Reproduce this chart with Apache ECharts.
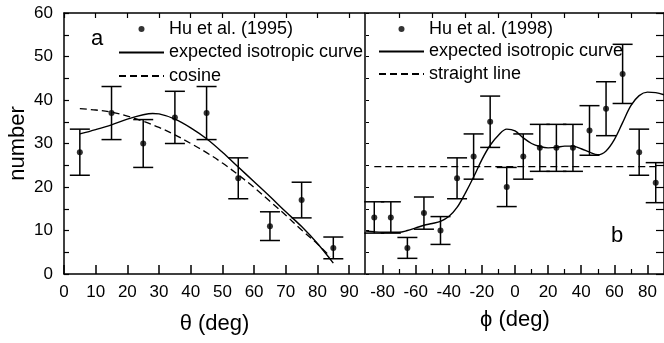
<!DOCTYPE html>
<html><head><meta charset="utf-8">
<script src="https://cdn.jsdelivr.net/npm/echarts@6/dist/echarts.min.js"></script>
<style>html,body{margin:0;padding:0;background:#fff}#c{width:664px;height:343px}</style>
</head><body><div id="c"></div>
<script>
// ---- data ----
const thetaDeg    = [5, 15, 25, 35, 45, 55, 65, 75, 85];
const thetaCounts = [28, 37, 30, 36, 37, 22, 11, 17, 6];
const thetaErrors = [5.3, 6.1, 5.5, 6.0, 6.1, 4.7, 3.3, 4.1, 2.5];

const isoThetaX = [5, 10, 15, 20, 25, 28, 30, 35, 40, 45, 50, 55, 60, 65, 70, 75, 80, 85];
const isoThetaY = [32.2, 33.2, 34.3, 35.6, 36.6, 36.9, 36.8, 35.6, 33.6, 31.1, 28.0, 24.6, 21.2, 17.8, 14.3, 10.9, 7.0, 2.5];

const cosineX = [5, 10, 15, 20, 25, 30, 35, 40, 45, 50, 55, 60, 65, 70, 75, 80, 84];
const cosineY = [38.0, 37.7, 37.2, 36.3, 35.1, 33.7, 32.0, 30.0, 27.9, 25.5, 22.8, 19.9, 16.7, 13.5, 10.1, 6.9, 4.0];

const phiDeg    = [-85, -75, -65, -55, -45, -35, -25, -15, -5, 5, 15, 25, 35, 45, 55, 65, 75, 85];
const phiCounts = [13, 13, 6, 14, 10, 22, 27, 35, 20, 27, 29, 29, 29, 33, 38, 46, 28, 21];
const phiErrors = [3.6, 3.6, 2.4, 3.7, 3.2, 4.7, 5.2, 5.9, 4.5, 5.2, 5.4, 5.4, 5.4, 5.7, 6.2, 6.8, 5.3, 4.6];

const isoPhiX = [-90, -85, -80, -75, -70, -65, -60, -55, -50, -45, -40, -35, -30, -25, -20, -15, -10, -5, 0, 5, 10, 15, 20, 25, 30, 35, 40, 45, 50, 55, 60, 65, 70, 75, 80, 85, 90];
const isoPhiY = [9.9, 9.7, 9.6, 9.6, 9.6, 10.0, 10.6, 11.2, 11.6, 12.1, 13.2, 15.3, 18.6, 22.3, 26.3, 29.6, 31.9, 33.3, 32.9, 31.3, 30.0, 29.3, 29.0, 29.1, 29.4, 29.4, 28.8, 28.0, 27.4, 28.3, 30.9, 34.8, 38.7, 41.0, 41.8, 41.7, 41.2];

const straightX = [-85, 87];
const straightY = [24.7, 24.7];

const thetaTickLabels = [0, 10, 20, 30, 40, 50, 60, 70, 80, 90];
const countTickLabels = [0, 10, 20, 30, 40, 50, 60];
const phiTickLabels   = [-80, -60, -40, -20, 0, 20, 40, 60, 80];
const phiMinorTicks   = [-70, -50, -30, -10, 10, 30, 50, 70];

// ---- helpers ----
const zip = (a, b) => a.map((v, i) => [v, b[i]]);
const zip3 = (a, b, c) => a.map((v, i) => [v, b[i], c[i]]);
const FONT = '"Liberation Sans", Arial, sans-serif';
const BLACK = '#000';
const NOFILL = 'rgba(0,0,0,0)';

function errorBarRender(params, api) {
  const x = api.value(0), y = api.value(1), e = api.value(2);
  const top = api.coord([x, y + e]);
  const bot = api.coord([x, y - e]);
  const hw = 10;
  const st = { stroke: BLACK, lineWidth: 1.5 };
  return {
    type: 'group',
    children: [
      { type: 'line', shape: { x1: top[0], y1: top[1], x2: bot[0], y2: bot[1] }, style: st },
      { type: 'line', shape: { x1: top[0] - hw, y1: top[1], x2: top[0] + hw, y2: top[1] }, style: st },
      { type: 'line', shape: { x1: bot[0] - hw, y1: bot[1], x2: bot[0] + hw, y2: bot[1] }, style: st }
    ]
  };
}

const axisLine = { show: true, onZero: false, lineStyle: { color: BLACK, width: 1.5 } };
const noLine = { show: false, onZero: false };
const labelStyle = { color: BLACK, fontFamily: FONT, fontSize: 17 };
const nameStyle = { color: BLACK, fontFamily: FONT, fontSize: 22 };
const legendText = { color: BLACK, fontFamily: FONT, fontSize: 18 };

const chart = echarts.init(document.getElementById('c'), null, { renderer: 'canvas' });
chart.setOption({
  animation: false,
  backgroundColor: '#fff',
  grid: [
    { left: 64, top: 13, width: 301, height: 261 },
    { left: 366, top: 13, width: 301, height: 261 }
  ],
  legend: [
    {
      orient: 'vertical', left: 118, top: 20, padding: 0,
      itemWidth: 45, itemHeight: 6, itemGap: 5.5,
      textStyle: legendText,
      data: ['Hu et al. (1995)', 'expected isotropic curve', 'cosine']
    },
    {
      orient: 'vertical', left: 378, top: 20, padding: 0,
      itemWidth: 45, itemHeight: 6, itemGap: 4.5,
      textStyle: legendText,
      data: ['Hu et al. (1998)', 'expected isotropic curve', 'straight line']
    }
  ],
  xAxis: [
    { // 0: left bottom
      type: 'value', gridIndex: 0, position: 'bottom', min: 0, max: 95, interval: 10,
      axisLine: axisLine, splitLine: { show: false },
      axisTick: { inside: true, length: 9, customValues: thetaTickLabels, lineStyle: { color: BLACK, width: 1.5 } },
      axisLabel: { customValues: thetaTickLabels, margin: 10, ...labelStyle },
      name: 'θ (deg)', nameLocation: 'middle', nameGap: 39, nameTextStyle: nameStyle
    },
    { // 1: left top
      type: 'value', gridIndex: 0, position: 'top', min: 0, max: 95, interval: 10,
      axisLine: axisLine, splitLine: { show: false },
      axisTick: { inside: true, length: 5, customValues: thetaTickLabels, lineStyle: { color: BLACK, width: 1.2 } },
      axisLabel: { show: false }
    },
    { // 2: right bottom
      type: 'value', gridIndex: 1, position: 'bottom', min: -90, max: 90, interval: 10,
      axisLine: axisLine, splitLine: { show: false },
      axisTick: { inside: true, length: 9, customValues: phiTickLabels, lineStyle: { color: BLACK, width: 1.5 } },
      axisLabel: { customValues: phiTickLabels, margin: 10, ...labelStyle },
      name: 'ϕ (deg)', nameLocation: 'middle', nameGap: 35, nameTextStyle: nameStyle
    },
    { // 3: right bottom minor ticks
      type: 'value', gridIndex: 1, position: 'bottom', offset: 0, min: -90, max: 90, interval: 10,
      axisLine: noLine, splitLine: { show: false },
      axisTick: { inside: true, length: 5, customValues: phiMinorTicks, lineStyle: { color: BLACK, width: 1.2 } },
      axisLabel: { show: false }
    },
    { // 4: right top
      type: 'value', gridIndex: 1, position: 'top', min: -90, max: 90, interval: 10,
      axisLine: axisLine, splitLine: { show: false },
      axisTick: { inside: true, length: 5, customValues: phiMinorTicks, lineStyle: { color: BLACK, width: 1.2 } },
      axisLabel: { show: false }
    }
  ],
  yAxis: [
    { // 0: left
      type: 'value', gridIndex: 0, position: 'left', min: 0, max: 60, interval: 5,
      axisLine: axisLine, splitLine: { show: false },
      axisTick: { inside: true, length: 5, lineStyle: { color: BLACK, width: 1.2 } },
      axisLabel: { customValues: countTickLabels, margin: 11, ...labelStyle },
      name: 'number', nameLocation: 'middle', nameGap: 35, nameRotate: 90, nameTextStyle: nameStyle
    },
    { // 1: left panel right frame
      type: 'value', gridIndex: 0, position: 'right', min: 0, max: 60, interval: 5,
      axisLine: axisLine, splitLine: { show: false },
      axisTick: { show: false }, axisLabel: { show: false }
    },
    { // 2: right panel left side
      type: 'value', gridIndex: 1, position: 'left', min: 0, max: 60, interval: 5,
      axisLine: noLine, splitLine: { show: false },
      axisTick: { inside: true, length: 3, lineStyle: { color: BLACK, width: 1 } },
      axisLabel: { show: false }
    },
    { // 3: right panel right side
      type: 'value', gridIndex: 1, position: 'right', min: 0, max: 60, interval: 5,
      axisLine: axisLine, splitLine: { show: false },
      axisTick: { inside: true, length: 8, lineStyle: { color: BLACK, width: 1.2 } },
      axisLabel: { show: false }
    }
  ],
  graphic: [
    { type: 'text', x: 97, y: 39, style: { text: 'a', font: '22px ' + FONT, fill: BLACK, align: 'center', verticalAlign: 'middle' } },
    { type: 'text', x: 617, y: 236, style: { text: 'b', font: '22px ' + FONT, fill: BLACK, align: 'center', verticalAlign: 'middle' } }
  ],
  series: [
    {
      name: 'Hu et al. (1995)', type: 'scatter', xAxisIndex: 0, yAxisIndex: 0,
      data: zip(thetaDeg, thetaCounts), symbol: 'circle', symbolSize: 6,
      itemStyle: { color: BLACK }, z: 5
    },
    {
      name: 'Hu et al. (1995)', type: 'custom', xAxisIndex: 0, yAxisIndex: 0,
      data: zip3(thetaDeg, thetaCounts, thetaErrors), encode: { x: 0, y: 1 },
      renderItem: errorBarRender, z: 4
    },
    {
      name: 'expected isotropic curve', type: 'line', xAxisIndex: 0, yAxisIndex: 0,
      data: zip(isoThetaX, isoThetaY), smooth: 0.35, symbol: 'none', showSymbol: false,
      lineStyle: { color: BLACK, width: 1.4, type: 'solid' }, itemStyle: { color: NOFILL }
    },
    {
      name: 'cosine', type: 'line', xAxisIndex: 0, yAxisIndex: 0,
      data: zip(cosineX, cosineY), smooth: 0.35, symbol: 'none', showSymbol: false,
      lineStyle: { color: BLACK, width: 1.3, type: [7, 4] }, itemStyle: { color: NOFILL }
    },
    {
      name: 'Hu et al. (1998)', type: 'scatter', xAxisIndex: 2, yAxisIndex: 2,
      data: zip(phiDeg, phiCounts), symbol: 'circle', symbolSize: 6,
      itemStyle: { color: BLACK }, z: 5
    },
    {
      name: 'Hu et al. (1998)', type: 'custom', xAxisIndex: 2, yAxisIndex: 2,
      data: zip3(phiDeg, phiCounts, phiErrors), encode: { x: 0, y: 1 },
      renderItem: errorBarRender, z: 4
    },
    {
      name: 'expected isotropic curve', type: 'line', xAxisIndex: 2, yAxisIndex: 2,
      data: zip(isoPhiX, isoPhiY), smooth: 0.35, symbol: 'none', showSymbol: false,
      lineStyle: { color: BLACK, width: 1.4, type: 'solid' }, itemStyle: { color: NOFILL }
    },
    {
      name: 'straight line', type: 'line', xAxisIndex: 2, yAxisIndex: 2,
      data: zip(straightX, straightY), symbol: 'none', showSymbol: false,
      lineStyle: { color: BLACK, width: 1.3, type: [7, 4] }, itemStyle: { color: NOFILL }
    }
  ]
});
</script>
</body></html>
